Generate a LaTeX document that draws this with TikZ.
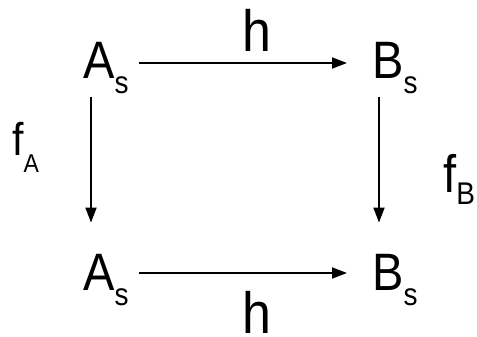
\documentclass[tikz,border=0pt]{standalone}
\usepackage{fontspec}
\setmainfont{Liberation Sans}
\usetikzlibrary{arrows.meta}
\newcommand{\lowsub}[3]{\raisebox{-#1}{\fontsize{#2}{#2}\selectfont #3}}
\tikzset{
  obj/.style={inner sep=0pt, anchor=base west, yscale=1.12, font=\fontsize{47}{48}\selectfont},
  lbl/.style={inner sep=0pt, anchor=base west, yscale=1.12, font=\fontsize{52}{53}\selectfont},
  arr/.style={line width=1.8pt, -{Triangle[length=15pt, width=11pt]}}
}
\begin{document}
\begin{tikzpicture}[x=1pt, y=-1pt]
  \useasboundingbox (0,0) rectangle (477,337);
  % Objekte
  \node[obj] (asT) at (83,78)  {A\lowsub{14pt}{28}{s}};
  \node[obj] (bsT) at (372,78) {B\lowsub{14pt}{28}{s}};
  \node[obj] (asB) at (83,290) {A\lowsub{14pt}{28}{s}};
  \node[obj] (bsB) at (372,290) {B\lowsub{14pt}{28}{s}};
  % Beschriftungen
  \node[lbl] (hT) at (242,52) {h};
  \node[lbl] (hB) at (242,333) {h};
  \node[lbl, font=\fontsize{41}{42}\selectfont] (fA) at (12,155) {f\lowsub{16pt}{23}{A}};
  \node[lbl, font=\fontsize{47}{48}\selectfont] (fB) at (443,192) {f\lowsub{11.5pt}{28}{B}};
  % Pfeile
  \draw[arr, shorten <=10pt, shorten >=25pt] ([yshift=15pt]asT.base east) -- ([yshift=15pt]bsT.base west);
  \draw[arr, shorten <=10pt, shorten >=25pt] ([yshift=17pt]asB.base east) -- ([yshift=17pt]bsB.base west);
  \draw[arr, shorten <=2.5pt, shorten >=31pt] ([xshift=8pt]asT.south west) -- ([xshift=8pt]asB.north west);
  \draw[arr, shorten <=2.5pt, shorten >=31pt] ([xshift=7pt]bsT.south west) -- ([xshift=7pt]bsB.north west);
\end{tikzpicture}
\end{document}
